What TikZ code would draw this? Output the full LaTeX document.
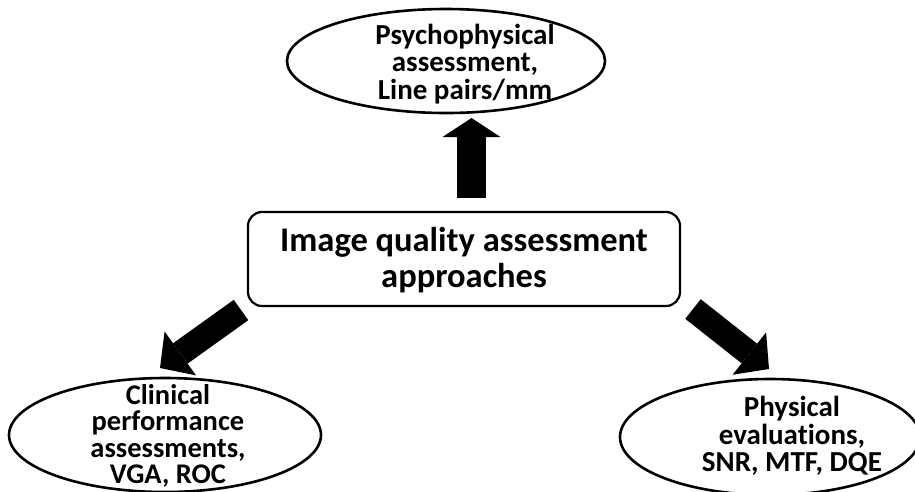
\documentclass[tikz,border=0pt]{standalone}
\usepackage{fontspec}
\setmainfont{Carlito}[Ligatures={NoCommon,NoContextual}]
\usetikzlibrary{shapes.geometric,arrows.meta}
\begin{document}
\begin{tikzpicture}[x=1pt,y=-1pt,
  oval/.style={draw, line width=2.6pt, ellipse, inner sep=0pt},
  ovaltext/.style={align=center, inner sep=0pt,
    font=\bfseries\fontsize{29}{27.5}\selectfont},
  centerbox/.style={draw, line width=2.2pt, rounded corners=14pt, inner sep=0pt},
  boxtext/.style={align=center, inner sep=0pt,
    font=\bfseries\fontsize{34.5}{36}\selectfont},
  blockarrow/.style={draw=black, line width=#1},
  straightup/.style={blockarrow=29pt,
    -{Triangle[length=19pt,width=58pt,line width=0pt]}},
  slanted/.style={blockarrow=25pt,
    -{Triangle[length=25pt,width=54pt,line width=0pt]}}
]
\useasboundingbox (0,0) rectangle (915,491);

% central rounded box
\node[centerbox, minimum width=432pt, minimum height=94pt] (core) at (464,259) {};
\node[boxtext] (coretext) at (464,260) {Image quality assessment\\approaches};

% outcome ellipses
\node[oval, minimum width=318pt, minimum height=104pt] (psy) at (446,61) {};
\node[ovaltext] (psytext) at (465,64) {Psychophysical\\assessment,\\Line pairs/mm};

\node[oval, minimum width=312pt, minimum height=114pt] (clin) at (165,435) {};
\node[ovaltext, font=\bfseries\fontsize{28.5}{26.5}\selectfont] (clintext) at (168,436)
  {Clinical\\performance\\assessments,\\VGA, ROC};

\node[oval, minimum width=300pt, minimum height=116pt] (phys) at (770,437) {};
\node[ovaltext] (phystext) at (792,436) {Physical\\evaluat\kern0pt ions,\\SNR, MTF, DQE};

% block arrows leaving the central box
\coordinate (upfrom) at (471.5,198);
\coordinate (upto) at (471.5,118);
\coordinate (leftfrom) at (241,310);
\coordinate (leftto) at (160,368);
\coordinate (rightfrom) at (693,309);
\coordinate (rightto) at (769,369);

\draw[straightup] (upfrom) -- (upto);
\draw[slanted] (leftfrom) -- (leftto);
\draw[slanted] (rightfrom) -- (rightto);
\end{tikzpicture}
\end{document}
